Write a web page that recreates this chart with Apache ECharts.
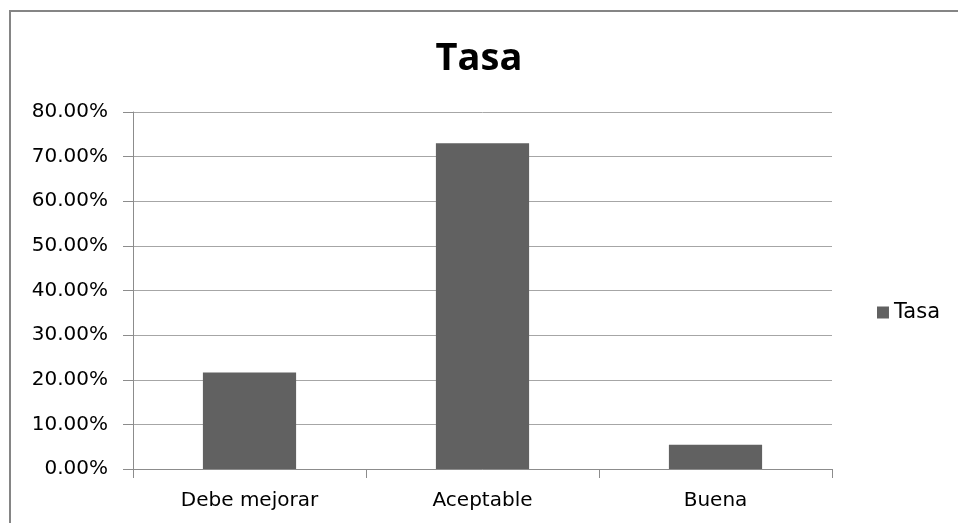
<!DOCTYPE html>
<html>
<head>
<meta charset="utf-8">
<script src="https://cdn.jsdelivr.net/npm/echarts@6/dist/echarts.min.js"></script>
<style>
	html, body { margin: 0; padding: 0; background: #fff; }
	#chart { width: 958px; height: 523px; }
</style>
</head>
<body>
<div id="chart"></div>
<script>
// datos del gráfico
const categorias = ['Debe mejorar', 'Aceptable', 'Buena'];
const tasa = [21.62, 72.97, 5.41];
const fuente = '"DejaVu Sans", sans-serif';

const chart = echarts.init(document.getElementById('chart'));

const option = {
	backgroundColor: '#ffffff',
	animation: false,
	title: {
		text: 'Tasa',
		left: 'center',
		top: 35,
		textStyle: {
			color: '#000',
			fontWeight: 'bold',
			fontSize: 38,
			fontFamily: '"Open Sans", sans-serif'
		}
	},
	legend: {
		data: ['Tasa'],
		right: 13,
		top: 297,
		icon: 'rect',
		itemWidth: 12,
		itemHeight: 12,
		textStyle: {
			color: '#000',
			fontSize: 21,
			fontFamily: fuente
		}
	},
	grid: {
		left: 133,
		right: 126,
		top: 112,
		bottom: 54
	},
	xAxis: {
		type: 'category',
		data: categorias,
		axisLine: { show: true, lineStyle: { color: '#8c8c8c', width: 1 } },
		axisTick: { show: true, length: 9, lineStyle: { color: '#8c8c8c' } },
		axisLabel: {
			color: '#000',
			fontSize: 20,
			fontFamily: fuente,
			margin: 22
		},
		splitLine: { show: false }
	},
	yAxis: {
		type: 'value',
		min: 0,
		max: 80,
		interval: 10,
		axisLine: { show: true, lineStyle: { color: '#8c8c8c', width: 1 } },
		axisTick: { show: true, length: 10, lineStyle: { color: '#8c8c8c' } },
		axisLabel: {
			color: '#000',
			fontSize: 20,
			fontFamily: fuente,
			margin: 25,
			formatter: v => v.toFixed(2) + '%'
		},
		splitLine: { show: true, lineStyle: { color: '#a6a6a6', width: 1 } }
	},
	series: [{
		name: 'Tasa',
		type: 'bar',
		data: tasa,
		barCategoryGap: '60%',
		itemStyle: { color: '#616161' }
	}],
	graphic: [{
		type: 'rect',
		shape: { x: 10, y: 11, width: 960, height: 530 },
		style: { fill: 'none', stroke: '#858585', lineWidth: 2 },
		silent: true
	}]
};

chart.setOption(option);
</script>
</body>
</html>
